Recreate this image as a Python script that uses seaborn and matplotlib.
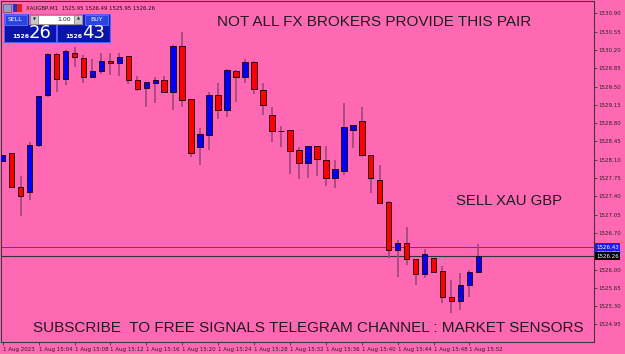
import numpy as np
import pandas as pd
import matplotlib
matplotlib.use("Agg")
import matplotlib.pyplot as plt
from matplotlib.patches import Rectangle
import seaborn as sns

# ---------------- data ----------------
times = [f"15:{m:02d}" for m in range(0, 54)]
opens = [1528.08, 1528.22, 1527.57, 1527.49, 1528.38, 1529.34, 1530.12, 1529.65, 1530.14, 1530.04,
         1529.69, 1529.80, 1529.99, 1529.94, 1530.08, 1529.62, 1529.48, 1529.57, 1529.62, 1529.40,
         1530.27, 1529.26, 1528.34, 1528.58, 1529.34, 1529.05, 1529.80, 1529.69, 1529.97, 1529.43,
         1528.96, 1528.64, 1528.66, 1528.29, 1528.03, 1528.36, 1528.09, 1527.75, 1527.89, 1528.66,
         1528.84, 1528.19, 1527.71, 1527.30, 1526.37, 1526.51, 1526.20, 1525.92, 1526.22, 1525.97,
         1525.47, 1525.40, 1525.70, 1525.95]
highs = [1528.20, 1528.23, 1527.78, 1528.43, 1529.32, 1530.14, 1530.15, 1530.20, 1530.25, 1530.10,
         1530.02, 1530.14, 1530.14, 1530.14, 1530.09, 1529.70, 1529.58, 1529.68, 1529.70, 1530.29,
         1530.55, 1529.27, 1528.70, 1529.40, 1529.57, 1529.83, 1529.81, 1530.02, 1529.98, 1529.56,
         1529.10, 1528.75, 1528.67, 1528.35, 1528.37, 1528.37, 1528.36, 1528.10, 1529.18, 1528.77,
         1529.10, 1528.20, 1528.00, 1527.31, 1526.57, 1526.82, 1526.21, 1526.39, 1526.23, 1526.06,
         1525.80, 1525.93, 1525.99, 1526.49]
lows = [1528.06, 1527.56, 1527.03, 1527.33, 1528.35, 1529.29, 1529.40, 1529.52, 1529.88, 1529.57,
        1529.68, 1529.74, 1529.72, 1529.70, 1529.54, 1529.42, 1529.10, 1529.18, 1529.37, 1529.05,
        1529.10, 1528.15, 1528.00, 1528.29, 1528.88, 1528.92, 1529.21, 1529.56, 1529.36, 1528.96,
        1528.43, 1528.35, 1527.83, 1527.73, 1527.76, 1527.79, 1527.60, 1527.55, 1527.81, 1528.33,
        1528.16, 1527.47, 1527.26, 1526.22, 1525.86, 1526.09, 1525.70, 1525.83, 1525.95, 1525.36,
        1525.17, 1525.23, 1525.48, 1525.95]
closes = [1528.19, 1527.58, 1527.41, 1528.38, 1529.31, 1530.12, 1529.65, 1530.17, 1530.07, 1529.69,
          1529.80, 1529.99, 1529.94, 1530.06, 1529.62, 1529.46, 1529.58, 1529.62, 1529.40, 1530.27,
          1529.24, 1528.23, 1528.59, 1529.34, 1529.05, 1529.82, 1529.69, 1529.97, 1529.46, 1529.15,
          1528.64, 1528.65, 1528.27, 1528.03, 1528.36, 1528.11, 1527.75, 1527.92, 1528.73, 1528.76,
          1528.20, 1527.75, 1527.27, 1526.37, 1526.51, 1526.20, 1525.92, 1526.30, 1525.96, 1525.47,
          1525.40, 1525.70, 1525.95, 1526.26]
bid_price = 1526.26
ask_price = 1526.43
price_ticks = [1530.90, 1530.55, 1530.20, 1529.85, 1529.50, 1529.15, 1528.80, 1528.45, 1528.10,
               1527.75, 1527.40, 1527.05, 1526.70, 1526.35, 1526.00, 1525.65, 1525.30, 1524.95]
time_tick_idx = [0, 4, 8, 12, 16, 20, 24, 28, 32, 36, 40, 44, 48, 52]
time_tick_labels = ["1 Aug 2023", "1 Aug 15:04", "1 Aug 15:08", "1 Aug 15:12", "1 Aug 15:16",
                    "1 Aug 15:20", "1 Aug 15:24", "1 Aug 15:28", "1 Aug 15:32", "1 Aug 15:36",
                    "1 Aug 15:40", "1 Aug 15:44", "1 Aug 15:48", "1 Aug 15:52"]
header = "XAUGBP,M1  1525.95 1526.49 1525.95 1526.26"
title_top = "NOT ALL FX BROKERS PROVIDE THIS PAIR"
title_mid = "SELL XAU GBP"
title_bottom = "SUBSCRIBE  TO FREE SIGNALS TELEGRAM CHANNEL : MARKET SENSORS"

df = pd.DataFrame({"time": times, "open": opens, "high": highs, "low": lows, "close": closes})
df["x"] = np.arange(len(df))
df["bull"] = df["close"] >= df["open"]

# ---------------- style ----------------
BG = "#ff69b4"
sns.set_style("ticks", {"axes.facecolor": BG, "figure.facecolor": BG})
plt.rcParams["font.family"] = ["Liberation Sans", "DejaVu Sans"]

W, H, DPI = 625, 354, 100
fig = plt.figure(figsize=(W / DPI, H / DPI), dpi=DPI, facecolor=BG)
ax = fig.add_axes([1 / W, 12 / H, 593 / W, 341 / H])
ax.set_facecolor(BG)

# wicks
ax.vlines(df["x"], df["low"], df["high"], color="#a2497e", lw=1.3, zorder=2)
# bodies
body_bottom = np.minimum(df["open"], df["close"])
body_height = np.maximum(np.abs(df["close"] - df["open"]), 0.012)
colors = np.where(df["bull"], "#0000ff", "#ff0000")
ax.bar(df["x"], body_height, bottom=body_bottom, width=0.62, color=colors,
       edgecolor="#2a0010", linewidth=0.7, zorder=3)

# bid / ask lines
ax.axhline(ask_price, color="#4433ee", lw=0.7, zorder=1)
ax.axhline(bid_price, color="#333333", lw=0.8, zorder=1)

ax.set_xlim(-0.19, 65.88)
ax.set_ylim(1524.615, 1531.135)

ax.yaxis.tick_right()
ax.set_yticks(price_ticks)
ax.set_yticklabels([f"{p:.2f}" for p in price_ticks])
ax.set_xticks(time_tick_idx)
ax.set_xticklabels(time_tick_labels, ha="left")
ax.tick_params(axis="y", length=2, width=0.5, pad=1, labelsize=4, colors="#222222")
ax.tick_params(axis="x", length=2, width=0.5, pad=1.5, labelsize=4, colors="#222222")
for lbl in ax.get_xticklabels() + ax.get_yticklabels():
    lbl.set_family("DejaVu Sans")
for s in ax.spines.values():
    s.set_visible(True)
    s.set_color("#3a3a3a")
    s.set_linewidth(0.8)

# ---------------- overlay in pixel coords ----------------
ov = fig.add_axes([0, 0, 1, 1], zorder=5)
ov.set_xlim(0, W)
ov.set_ylim(H, 0)
ov.axis("off")
ov.patch.set_alpha(0)

# price boxes on right axis
ov.add_patch(Rectangle((595, 243), 25, 8, facecolor="#1a1aff", edgecolor="none"))
ov.text(607.5, 247.2, f"{ask_price:.2f}", color="white", fontsize=4, ha="center", va="center",
        family="DejaVu Sans")
ov.add_patch(Rectangle((595, 252), 25, 8, facecolor="#000000", edgecolor="none"))
ov.text(607.5, 256.2, f"{bid_price:.2f}", color="white", fontsize=4, ha="center", va="center",
        family="DejaVu Sans")

# big texts
tc = "#1c1c1c"
ov.text(374.5, 21.5, title_top, fontsize=10.95, color=tc, ha="center", va="center")
ov.text(508.5, 201, title_mid, fontsize=10.7, color=tc, ha="center", va="center")
ov.text(308.5, 328.5, title_bottom, fontsize=10.95, color=tc, ha="center", va="center")

# header
ov.add_patch(Rectangle((3, 4), 8, 8, facecolor="#8fa0c8", edgecolor="#445", lw=0.4))
ov.add_patch(Rectangle((13, 4), 4, 8, facecolor="#2233cc", edgecolor="none"))
ov.add_patch(Rectangle((17, 4), 5, 8, facecolor="#dd2222", edgecolor="none"))
ov.text(26, 8.5, header, fontsize=3.9, color="#111111", ha="left", va="center", family="DejaVu Sans")

# one-click trading panel
for x0 in (4, 57):
    ov.add_patch(Rectangle((x0, 14), 52 if x0 == 4 else 53, 28, facecolor="#1020c8",
                           edgecolor="#5060ff", lw=0.6))
    ov.add_patch(Rectangle((x0 + 0.5, 26), 51.5, 15.5, facecolor="#0a14a8", edgecolor="none"))
ov.add_patch(Rectangle((4.5, 14.5), 22, 10, facecolor="#2a44e0", edgecolor="#6a80ff", lw=0.5))
ov.text(15.5, 19.5, "SELL", color="white", fontsize=4.5, ha="center", va="center", family="DejaVu Sans")
ov.add_patch(Rectangle((85, 14.5), 23, 10, facecolor="#2a44e0", edgecolor="#6a80ff", lw=0.5))
ov.text(96.5, 19.5, "BUY", color="white", fontsize=4.5, ha="center", va="center", family="DejaVu Sans")
ov.add_patch(Rectangle((29, 14), 54, 10.5, facecolor="#e05aa0", edgecolor="none"))
ov.add_patch(Rectangle((30, 15), 8, 8.5, facecolor="#c8c8c8", edgecolor="#777777", lw=0.4))
ov.add_patch(Rectangle((74, 15), 8, 8.5, facecolor="#c8c8c8", edgecolor="#777777", lw=0.4))
ov.add_patch(Rectangle((38, 15), 36, 8.5, facecolor="#ffffff", edgecolor="#777777", lw=0.4))
ov.text(34, 19.5, "\u25BC", fontsize=2.8, ha="center", va="center", color="#222222", family="DejaVu Sans")
ov.text(78, 19, "\u25B2", fontsize=2.8, ha="center", va="center", color="#222222", family="DejaVu Sans")
ov.text(71, 19.5, "1.00", fontsize=4.5, ha="right", va="center", color="#222222", family="DejaVu Sans")
ov.text(20.5, 36.5, "1526", color="white", fontsize=4.4, fontweight="bold", ha="center", va="center",
        family="DejaVu Sans")
ov.text(40, 33.5, "26", color="white", fontsize=13, ha="center", va="center", family="DejaVu Sans")
ov.text(73.5, 36.5, "1526", color="white", fontsize=4.4, fontweight="bold", ha="center", va="center",
        family="DejaVu Sans")
ov.text(93.5, 33.5, "43", color="white", fontsize=13, ha="center", va="center", family="DejaVu Sans")

fig.savefig("out.png", dpi=DPI, facecolor=BG)
